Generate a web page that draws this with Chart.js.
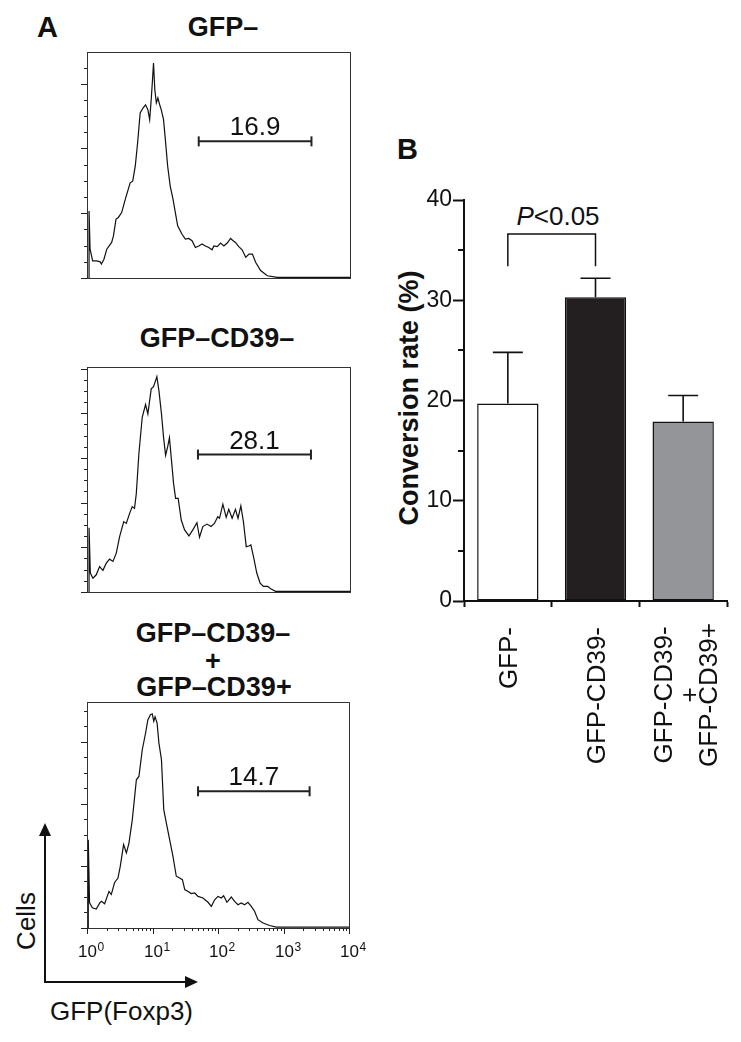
<!DOCTYPE html>
<html lang="en">
<head>
<meta charset="UTF-8">
<title>GFP- CD39 conversion</title>
<script src="https://cdn.jsdelivr.net/npm/chart.js"></script>
<style>
  body { margin: 0; background: #fff; }
  #fig {
    position: relative;
    width: 741px;
    height: 1042px;
    background: #fff;
    font-family: "Liberation Sans", Arial, Helvetica, sans-serif;
    color: #111;
    overflow: hidden;
  }
  .t { position: absolute; line-height: 1; white-space: nowrap; }
  .c { transform: translateX(-50%); }
  .b { font-weight: bold; }
  .rot { transform: translate(-50%, -50%) rotate(-90deg); }
  canvas { position: absolute; }
</style>
</head>
<body>
<div id="fig">
  <div class="t b" style="left:37px;top:13px;font-size:29px">A</div>
  <div class="t b" style="left:397px;top:135px;font-size:29px">B</div>

  <div class="t b c" style="left:223px;top:14px;font-size:27px">GFP–</div>
  <div class="t b c" style="left:217px;top:325px;font-size:27px">GFP–CD39–</div>
  <div class="t b c" style="left:213px;top:620px;font-size:27px">GFP–CD39–</div>
  <div class="t b c" style="left:213px;top:648px;font-size:27px">+</div>
  <div class="t b c" style="left:214px;top:674px;font-size:27px">GFP–CD39+</div>

  <div class="t rot" style="left:26px;top:921px;font-size:26px">Cells</div>
  <div class="t" style="left:50px;top:998px;font-size:26px">GFP(Foxp3)</div>
  <svg style="position:absolute;left:0;top:0" width="220" height="1042">
    <line x1="45" y1="983" x2="45" y2="832" stroke="#111" stroke-width="2"/>
    <polygon points="39,836 51,836 45,823" fill="#111"/>
    <line x1="44" y1="982" x2="188" y2="982" stroke="#111" stroke-width="2"/>
    <polygon points="185,976 185,988 198,982" fill="#111"/>
  </svg>

  <div class="t c" style="left:558px;top:203px;font-size:26px"><i>P</i>&lt;0.05</div>
  <div class="t b rot" style="left:409px;top:398px;font-size:27px">Conversion rate (%)</div>

  <canvas id="h1" width="300" height="240" style="left:60px;top:45px"></canvas>
  <canvas id="h2" width="300" height="240" style="left:60px;top:360px"></canvas>
  <canvas id="h3" width="315" height="270" style="left:60px;top:695px"></canvas>
  <canvas id="bars" width="361" height="600" style="left:380px;top:180px"></canvas>
</div>

<script>
  const FONT = '"Liberation Sans", Arial, Helvetica, sans-serif';

  // Panel A histograms: x = channel (0-1024 spans 4 log decades), y = cell count
  const h1Ch  = [8, 8, 12, 22, 38, 51, 56, 66, 77, 96, 103, 113, 122, 135, 149, 168, 178, 188, 197, 207, 218, 228, 237, 244, 250, 255, 259, 264, 270, 276, 283, 289, 298, 305, 314, 324, 335, 344, 353, 370, 383, 396, 409, 422, 435, 448, 461, 474, 487, 494, 507, 520, 533, 546, 559, 569, 578, 591, 604, 618, 631, 644, 657, 676, 702, 741, 1024];
  const h1Cnt = [0, 20.7, 8.9, 5.3, 5.3, 5.0, 4.3, 5.8, 8.9, 11.0, 13.0, 18.2, 18.7, 20.2, 24.3, 29.4, 29.9, 34.6, 41.7, 51.0, 52.5, 53.5, 52.0, 48.9, 55.1, 61.2, 66.4, 58.2, 54.1, 55.6, 53.5, 52.0, 48.9, 42.8, 34.6, 28.4, 24.3, 20.2, 16.1, 13.5, 12.0, 12.2, 11.5, 9.4, 9.9, 10.5, 9.9, 9.4, 8.7, 9.9, 9.7, 10.8, 9.9, 10.8, 12.2, 11.5, 11.0, 9.7, 8.7, 6.4, 7.4, 7.4, 4.8, 2.3, 0.7, 0.2, 0.2];

  const h2Ch  = [8, 8, 13, 23, 36, 49, 62, 75, 88, 101, 114, 127, 143, 153, 166, 176, 185, 192, 202, 215, 228, 237, 250, 259, 267, 272, 280, 290, 298, 306, 314, 321, 329, 337, 345, 355, 367, 380, 397, 412, 428, 438, 451, 467, 483, 496, 509, 516, 529, 542, 552, 565, 578, 588, 599, 609, 620, 630, 638, 648, 661, 674, 687, 704, 717, 734, 1024];
  const h2Cnt = [0, 28.8, 8.5, 6.2, 7.7, 11.4, 9.7, 12.9, 14.7, 13.7, 17.4, 24.8, 31.5, 30.7, 35.2, 38.2, 37.4, 44.1, 61.9, 78.2, 83.9, 79.7, 90.9, 91.9, 94.6, 96.4, 90.1, 79.7, 69.3, 61.2, 64.9, 69.0, 58.9, 48.6, 41.9, 41.9, 32.2, 27.8, 25.1, 27.8, 31.0, 24.5, 29.3, 30.4, 29.3, 30.7, 33.7, 33.0, 39.3, 33.4, 37.0, 33.0, 37.0, 33.0, 38.5, 31.5, 20.3, 20.6, 21.1, 15.9, 8.5, 4.0, 2.5, 2.5, 1.3, 0.3, 0.3];

  const h3Ch  = [5, 5, 10, 21, 36, 50, 56, 69, 86, 95, 108, 121, 130, 143, 154, 164, 177, 193, 203, 216, 229, 238, 248, 255, 261, 266, 274, 281, 291, 300, 310, 323, 336, 349, 362, 373, 382, 395, 408, 421, 434, 453, 473, 486, 499, 512, 525, 534, 547, 564, 577, 590, 603, 616, 629, 642, 655, 668, 688, 714, 740, 1024];
  const h3Cnt = [0, 28.5, 8.1, 6.5, 6.1, 8.1, 8.6, 7.8, 11.8, 10.8, 14.7, 16.1, 19.9, 26.9, 24.2, 27.4, 34.9, 47.8, 48.9, 57.5, 62.9, 67.2, 68.8, 69.1, 66.7, 68.1, 66.1, 59.7, 54.3, 38.2, 33.9, 28.5, 23.1, 16.7, 16.1, 15.6, 12.4, 11.8, 11.1, 11.3, 10.2, 9.7, 8.3, 7.0, 9.1, 10.2, 9.7, 10.4, 8.3, 10.0, 8.6, 7.5, 8.1, 7.5, 8.3, 7.0, 5.4, 2.7, 1.6, 0.8, 0.3, 0.3];

  // gates (channel start/end, height) and their percentages
  const gateCh = [[435, 874], [432, 872], [434, 870]];
  const gateY = [42.2, 61.5, 44.1];
  const gateLabels = ['16.9', '28.1', '14.7'];
  const histYMax = [69.8, 100.7, 72.9];
  const decadeExp = ['0', '1', '2', '3', '4'];

  // Panel B
  const groups = ['GFP-', 'GFP-CD39-', 'GFP-CD39- + GFP-CD39+'];
  const groupLines = [['GFP-'], ['GFP-CD39-'], ['GFP-CD39-', '+', 'GFP-CD39+']];
  const means = [19.7, 30.3, 17.9];
  const sem = [5.1, 1.9, 2.6];
  const barColors = ['#ffffff', '#231f20', '#939598'];
  const bracketLow = 33.4;
  const bracketHigh = 36.6;

  const histDeco = {
    id: 'histDeco',
    afterDraw(chart, args, opts) {
      const { ctx, chartArea: a } = chart;
      const x = chart.scales.x, y = chart.scales.y;
      ctx.save();
      ctx.strokeStyle = '#333';
      ctx.lineWidth = 1;
      ctx.strokeRect(Math.round(a.left) + 0.5, Math.round(a.top) + 0.5,
                     Math.round(a.right - a.left), Math.round(a.bottom - a.top));

      // y tick marks: long every 20, short every 5
      ctx.strokeStyle = '#222';
      for (let v = 0; v <= y.max; v += 5) {
        const py = Math.round(y.getPixelForValue(v)) + 0.5;
        const len = v % 20 === 0 ? 6 : 3;
        ctx.beginPath();
        ctx.moveTo(a.left - len, py);
        ctx.lineTo(a.left, py);
        ctx.stroke();
      }

      // gate percentage
      const g = chart.getDatasetMeta(1).data;
      ctx.fillStyle = '#111';
      ctx.font = '26px ' + FONT;
      ctx.textAlign = 'center';
      ctx.textBaseline = 'alphabetic';
      ctx.fillText(opts.label, (g[0].x + g[1].x) / 2, g[0].y - 6);

      if (opts.xAxis) {
        for (let d = 0; d < decadeExp.length; d++) {
          const px = Math.round(x.getPixelForValue(d * 256)) + 0.5;
          ctx.beginPath();
          ctx.moveTo(px, a.bottom);
          ctx.lineTo(px, a.bottom + 6);
          ctx.stroke();
          if (d < decadeExp.length - 1) {
            for (let k = 2; k <= 9; k++) {
              const mx = Math.round(x.getPixelForValue(256 * (d + Math.log10(k)))) + 0.5;
              ctx.beginPath();
              ctx.moveTo(mx, a.bottom);
              ctx.lineTo(mx, a.bottom + 3);
              ctx.stroke();
            }
          }
          ctx.font = '17px ' + FONT;
          ctx.textAlign = 'center';
          const w = ctx.measureText('10').width;
          ctx.fillText('10', px, a.bottom + 29);
          ctx.font = '12px ' + FONT;
          ctx.textAlign = 'left';
          ctx.fillText(decadeExp[d], px + w / 2 + 0.5, a.bottom + 23);
        }
      }
      ctx.restore();
    }
  };

  function drawHist(id, ch, cnt, i, padding, xAxis) {
    new Chart(document.getElementById(id), {
      type: 'line',
      data: {
        datasets: [{
          data: ch.map((c, k) => ({ x: c, y: cnt[k] })),
          borderColor: '#111',
          borderWidth: 1.2,
          pointRadius: 0,
          tension: 0,
          fill: false
        }, {
          data: gateCh[i].map(c => ({ x: c, y: gateY[i] })),
          borderColor: '#222',
          borderWidth: 2,
          pointStyle: 'line',
          pointRotation: 90,
          pointRadius: 5,
          pointBorderWidth: 2,
          pointBorderColor: '#222'
        }]
      },
      options: {
        responsive: false,
        animation: false,
        layout: { padding: padding },
        scales: {
          x: { type: 'linear', display: false, min: 0, max: 1024 },
          y: { type: 'linear', display: false, min: 0, max: histYMax[i] }
        },
        plugins: {
          legend: { display: false },
          tooltip: { enabled: false },
          histDeco: { label: gateLabels[i], xAxis: xAxis }
        }
      },
      plugins: [histDeco]
    });
  }

  drawHist('h1', h1Ch, h1Cnt, 0, { left: 27, right: 10, top: 7, bottom: 6 }, false);
  drawHist('h2', h2Ch, h2Cnt, 1, { left: 27, right: 10, top: 6, bottom: 8 }, false);
  drawHist('h3', h3Ch, h3Cnt, 2, { left: 27, right: 26, top: 7, bottom: 37 }, true);

  const barDeco = {
    id: 'barDeco',
    afterDatasetsDraw(chart) {
      const { ctx } = chart;
      const y = chart.scales.y;
      const bars = chart.getDatasetMeta(0).data;
      ctx.save();
      ctx.strokeStyle = '#111';
      ctx.lineWidth = 1.6;
      bars.forEach((bar, i) => {
        const top = y.getPixelForValue(means[i] + sem[i]);
        ctx.beginPath();
        ctx.moveTo(bar.x, bar.y);
        ctx.lineTo(bar.x, top);
        ctx.moveTo(bar.x - 15, top);
        ctx.lineTo(bar.x + 15, top);
        ctx.stroke();
      });
      ctx.restore();
    },
    afterDraw(chart) {
      const { ctx, chartArea: a } = chart;
      const x = chart.scales.x, y = chart.scales.y;
      ctx.save();
      // short minor ticks
      ctx.strokeStyle = '#111';
      ctx.lineWidth = 2;
      for (let v = 5; v < y.max; v += 10) {
        const py = Math.round(y.getPixelForValue(v));
        ctx.beginPath();
        ctx.moveTo(a.left - 6, py);
        ctx.lineTo(a.left, py);
        ctx.stroke();
      }
      // rotated category labels
      ctx.fillStyle = '#111';
      ctx.font = '26px ' + FONT;
      ctx.textBaseline = 'alphabetic';
      groupLines.forEach((lines, i) => {
        const cx = x.getPixelForValue(i);
        ctx.save();
        ctx.translate(cx, a.bottom + 26);
        ctx.rotate(-Math.PI / 2);
        if (lines.length === 1) {
          ctx.textAlign = 'right';
          ctx.fillText(lines[0], 0, 9);
        } else {
          ctx.textAlign = 'center';
          const offs = [-11, 15, 34];
          lines.forEach((s, k) => ctx.fillText(s, -68, offs[k]));
        }
        ctx.restore();
      });
      ctx.restore();
    }
  };

  new Chart(document.getElementById('bars'), {
    data: {
      labels: groups,
      datasets: [{
        type: 'bar',
        data: means,
        backgroundColor: barColors,
        borderColor: '#111',
        borderWidth: 1.5,
        borderSkipped: false,
        barPercentage: 0.70,
        categoryPercentage: 1.0
      }, {
        type: 'line',
        data: [
          { x: groups[0], y: bracketLow }, { x: groups[0], y: bracketHigh },
          { x: groups[1], y: bracketHigh }, { x: groups[1], y: bracketLow }
        ],
        borderColor: '#111',
        borderWidth: 1.5,
        pointRadius: 0,
        fill: false,
        tension: 0
      }]
    },
    options: {
      responsive: false,
      animation: false,
      layout: { padding: { top: 20, right: 14, left: 0, bottom: 0 } },
      scales: {
        x: {
          offset: true,
          ticks: { display: false },
          grid: {
            drawOnChartArea: false,
            tickLength: 6,
            tickWidth: 2,
            tickColor: '#111'
          },
          border: { display: true, color: '#111', width: 2 },
          afterFit: s => { s.height = 179; }
        },
        y: {
          min: 0,
          max: 40,
          ticks: {
            stepSize: 10,
            padding: 1,
            color: '#111',
            font: { size: 23, family: FONT }
          },
          grid: {
            drawOnChartArea: false,
            tickLength: 11,
            tickWidth: 2,
            tickColor: '#111'
          },
          border: { display: true, color: '#111', width: 2 },
          afterFit: s => { s.width = 84; }
        }
      },
      plugins: {
        legend: { display: false },
        tooltip: { enabled: false }
      }
    },
    plugins: [barDeco]
  });
</script>
</body>
</html>
